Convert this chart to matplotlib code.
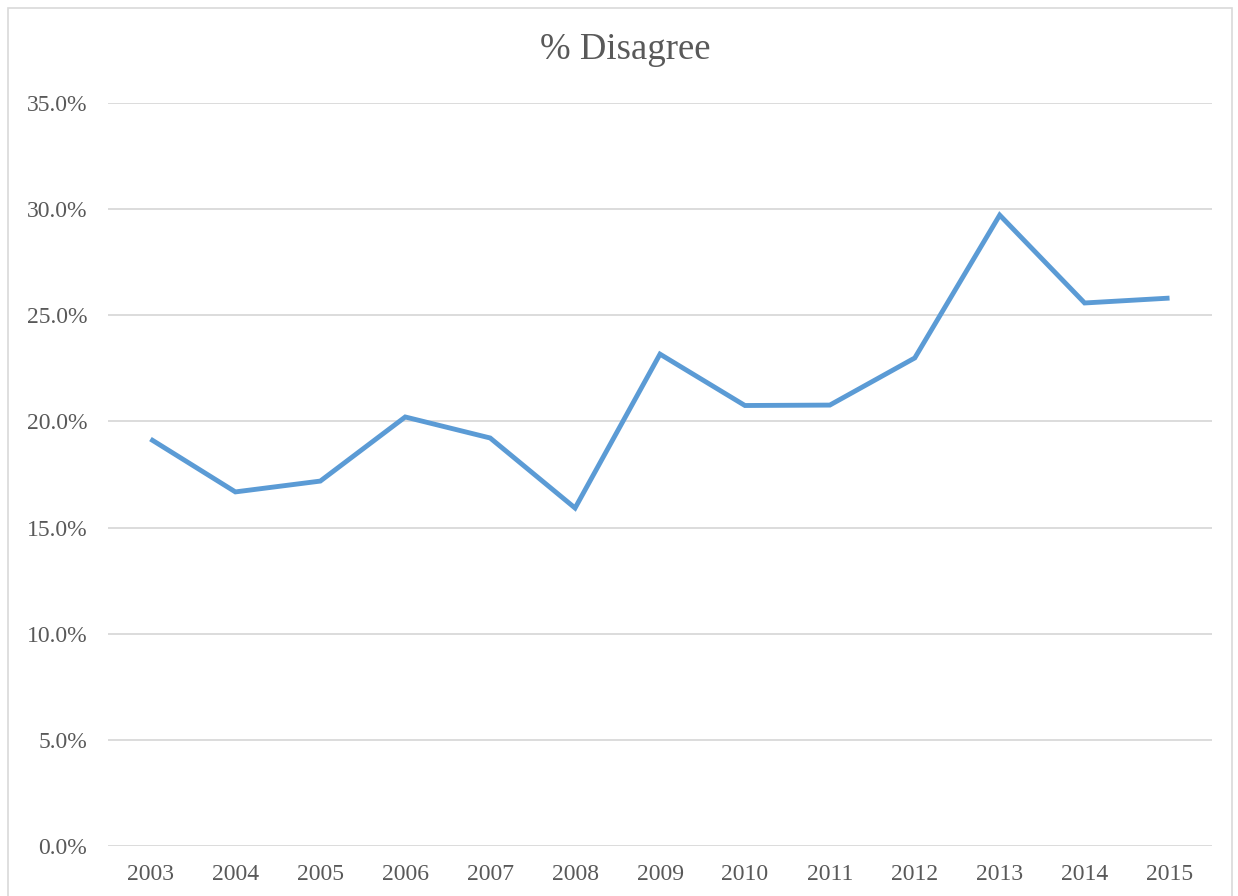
import matplotlib
matplotlib.use("Agg")
import matplotlib.pyplot as plt
from matplotlib.patches import Rectangle
from matplotlib.ticker import FuncFormatter

years = ["2003", "2004", "2005", "2006", "2007", "2008", "2009",
         "2010", "2011", "2012", "2013", "2014", "2015"]
disagree = [19.17, 16.68, 17.19, 20.21, 19.22, 15.92, 23.17,
            20.75, 20.77, 22.99, 29.72, 25.58, 25.81]
yticks = [0, 5, 10, 15, 20, 25, 30, 35]

plt.rcParams['font.family'] = ['Liberation Serif', 'DejaVu Serif']
W, H = 1238, 896
fig = plt.figure(figsize=(W / 100, H / 100), dpi=100)
fig.patch.set_facecolor('white')

# chart border
fig.patches.append(Rectangle((8 / W, -0.01), (1232 - 8) / W, 1 - 8 / H + 0.01,
                             transform=fig.transFigure, fill=False,
                             edgecolor='#D9D9D9', linewidth=1.2))

ax = fig.add_axes([108 / W, 1 - 846 / H, (1212 - 108) / W, (846 - 103) / H])
x = list(range(len(years)))
ax.plot(x, disagree, color='#5B9BD5', linewidth=3.5, solid_joinstyle='miter',
        solid_capstyle='butt', zorder=3)
ax.set_xlim(-0.5, len(years) - 0.5)
ax.set_ylim(0, 35)
ax.set_yticks(yticks)
ax.yaxis.set_major_formatter(FuncFormatter(lambda v, p: f"{v:.1f}%"))
ax.set_xticks(x)
ax.set_xticklabels(years)
ax.grid(axis='y', color='#D9D9D9', linewidth=1.3)
ax.set_axisbelow(True)
for s in ax.spines.values():
    s.set_visible(False)
ax.tick_params(axis='both', length=0, labelsize=17, labelcolor='#595959')
ax.tick_params(axis='y', pad=15)
ax.tick_params(axis='x', pad=13)

fig.text(625 / W, 1 - 50 / H, "% Disagree", ha='center', va='center',
         fontsize=26.5, color='#595959')

fig.savefig("out.png", dpi=100)
